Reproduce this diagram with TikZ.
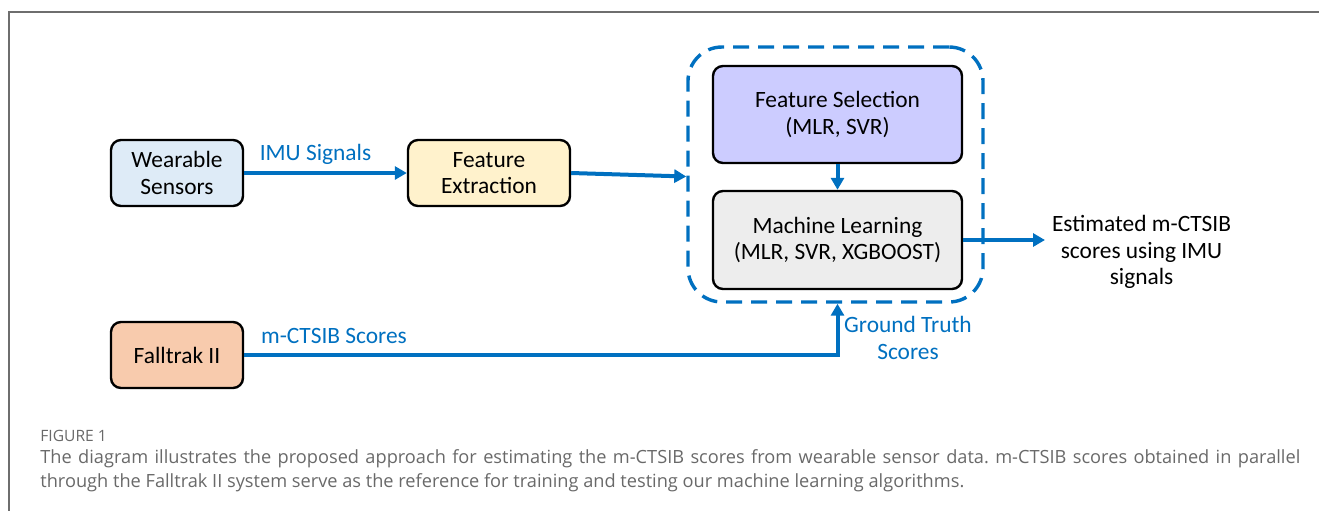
\documentclass[tikz,border=0pt]{standalone}
\usepackage{fontspec}
\setmainfont{Carlito}
\newfontfamily\capfont{Open Sans}
\usetikzlibrary{arrows.meta, positioning, calc}
\definecolor{flowblue}{RGB}{0,112,192}
\definecolor{sensfill}{RGB}{222,235,247}
\definecolor{extrfill}{RGB}{255,242,204}
\definecolor{selfill}{RGB}{204,204,255}
\definecolor{mlfill}{RGB}{237,237,237}
\definecolor{fallfill}{RGB}{248,203,173}
\definecolor{framegray}{RGB}{110,110,110}
\definecolor{capgray}{RGB}{105,105,105}
\frenchspacing

\begin{document}
\begin{tikzpicture}[x=0.5pt, y=-0.5pt,
        blk/.style={draw, fill=#1, line width=1.2pt, rounded corners=5pt,
                    align=center, font=\fontsize{11.7}{13.3}\selectfont},
        arr/.style={-{Triangle[length=6pt, width=6.5pt]}, line width=2pt, flowblue},
        lbl/.style={flowblue, align=center, font=\fontsize{11.7}{13.3}\selectfont},
        grpbox/.style={draw=flowblue, line width=1.7pt, dash pattern=on 8pt off 4.5pt,
                       rounded corners=17pt, minimum width=147.5pt, minimum height=127.5pt}
      ]
        \useasboundingbox (0,0) rectangle (1319,511);
        % page frame
        \draw[framegray, line width=0.75pt] (1319,12) -- (9,12) -- (9,511);

        % blocks
        \node[blk=sensfill, minimum width=66pt, minimum height=33pt] (ws) at (177,173)
          {Wearable\\Sensors};
        \node[blk=extrfill, minimum width=81pt, minimum height=33pt] (fe) at (489,173)
          {Feature\\Extraction};
        \node[blk=selfill, minimum width=124.5pt, minimum height=48.5pt] (fs) at (837.5,114.5)
          {Feature Selection\\(MLR, SVR)};
        \node[blk=mlfill, minimum width=124.5pt, minimum height=49pt] (ml) at (837.5,240)
          {Machine Learning\\(MLR, SVR, XGBOOST)};
        \node[blk=fallfill, minimum width=66pt, minimum height=33pt] (ft) at (177,355)
          {Falltrak II};
        \node[grpbox] (grp) at (835.5,174.5) {};
        \node[align=center, anchor=west, font=\fontsize{11.7}{13.3}\selectfont] (est)
          at (1045,252) {Estimated m-CTSIB\\scores using IMU\\signals};

        % connectors
        \draw[arr] (ws.east) -- (fe.west)
          node[lbl, midway, above, xshift=-5pt, yshift=0pt] {IMU Signals};
        \draw[arr] (fe.east) -- ($(grp.west)+(0,2)$);
        \draw[arr] (fs.south) -- (ml.north);
        \draw[arr] (ml.east) -- (ml.east -| est.west);
        \draw[arr] (ft.east) -| (ml.south |- grp.south);
        \node[lbl, anchor=south west] (mslbl) at (254,351) {m-CTSIB Scores};
        \node[lbl] (gt) at (908,338) {Ground Truth\\Scores};

        % caption
        \node[anchor=north west, inner sep=0pt, text=capgray, font=\capfont\fontsize{7.8}{9}\selectfont]
          (fig) at (40,430) {FIGURE 1};
        \node[anchor=north west, inner sep=0pt, text=capgray, align=justify, text width=630pt,
              font=\capfont\fontsize{9.1}{12.2}\selectfont] (cap) at (40,449)
          {\hyphenpenalty=10000 The diagram illustrates the proposed approach for estimating the m-CTSIB scores from
           wearable sensor data. m-CTSIB scores obtained in parallel\linebreak through the Falltrak II
           system serve as the reference for training and testing our machine learning algorithms.};
      \end{tikzpicture}
\end{document}
